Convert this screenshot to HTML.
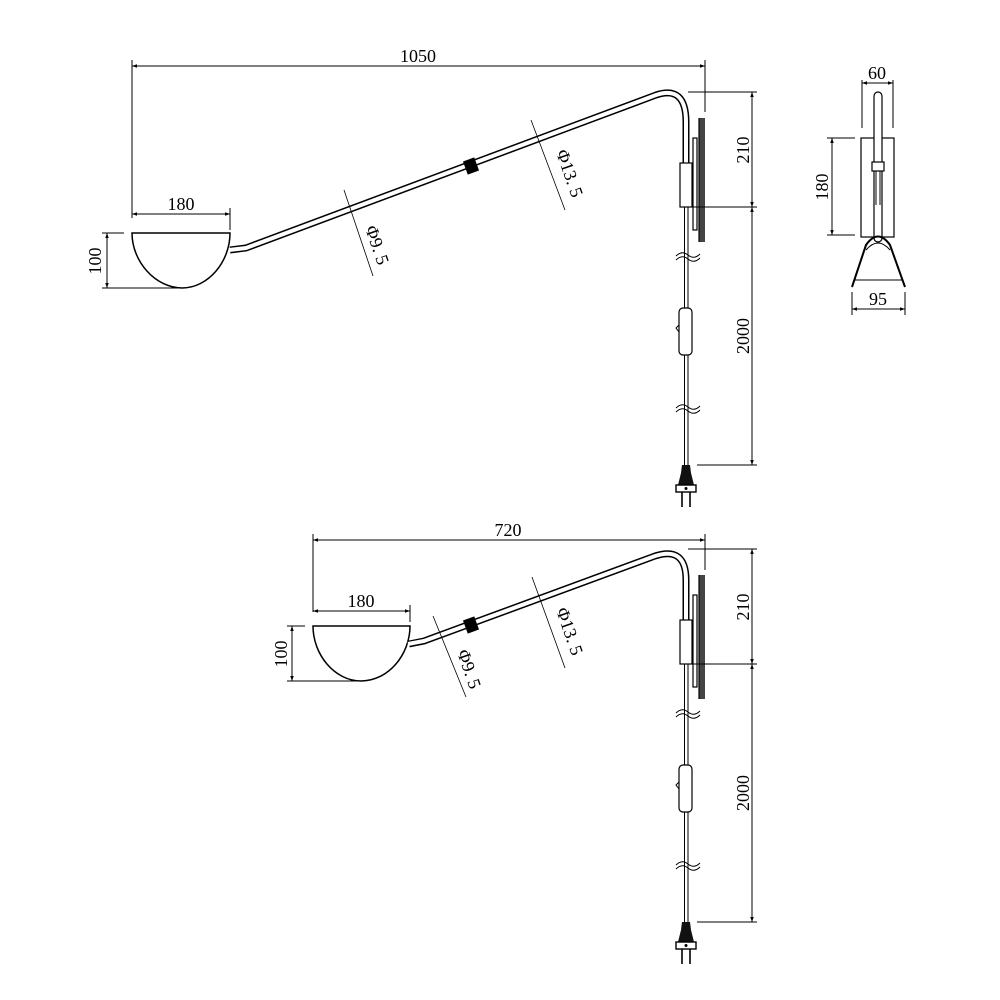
<!DOCTYPE html>
<html><head><meta charset="utf-8"><style>
html,body{margin:0;padding:0;background:#fff}
svg{display:block}
text{font-family:"Liberation Serif",serif;font-size:18px;fill:#000}
</style></head><body>
<svg width="1000" height="1000" viewBox="0 0 1000 1000" xmlns="http://www.w3.org/2000/svg">
<defs>
<marker id="a" viewBox="0 0 10 10" refX="10" refY="5" markerWidth="9" markerHeight="5" orient="auto-start-reverse" markerUnits="userSpaceOnUse"><path d="M0,1.5 L10,5 L0,8.5z" fill="#000"/></marker>
<g id="vert">
  <rect x="693" y="138" width="4" height="92" fill="#fff" stroke="#000" stroke-width="1.2"/>
  <rect x="699" y="118" width="6" height="124" fill="#444"/>
  <line x1="699" y1="118" x2="699" y2="242" stroke="#000" stroke-width="1.2"/>
  <rect x="680" y="163" width="12" height="44" fill="#fff" stroke="#000" stroke-width="1.2"/>
  <line x1="684.5" y1="207" x2="684.5" y2="470" stroke="#000" stroke-width="1"/>
  <line x1="688" y1="207" x2="688" y2="470" stroke="#000" stroke-width="1"/>
  <path d="M676,256 q6,-6 12,-1 t12,-1 M676,260 q6,-6 12,-1 t12,-1" stroke="#000" fill="none" stroke-width="1"/>
  <path d="M676,408 q6,-6 12,-1 t12,-1 M676,412 q6,-6 12,-1 t12,-1" stroke="#000" fill="none" stroke-width="1"/>
  <rect x="679" y="308" width="13" height="47" rx="4" fill="#fff" stroke="#000" stroke-width="1.2"/>
  <path d="M679,325 l-3,3 l3,4" fill="none" stroke="#000"/>
  <path d="M682,465 h8 l1,8 l3,12 h-16 l3,-12z" fill="#111"/>
  <rect x="676" y="485" width="20" height="7" fill="#fff" stroke="#000" stroke-width="1.4"/>
  <circle cx="686" cy="488.5" r="1.5" fill="#000"/>
  <line x1="682" y1="492" x2="682" y2="507" stroke="#000" stroke-width="1.6"/>
  <line x1="690" y1="492" x2="690" y2="507" stroke="#000" stroke-width="1.6"/>
  <line x1="688" y1="92" x2="757" y2="92" stroke="#000" stroke-width="1"/>
  <line x1="693" y1="207" x2="757" y2="207" stroke="#000" stroke-width="1"/>
  <line x1="697" y1="465" x2="757" y2="465" stroke="#000" stroke-width="1"/>
  <line x1="752" y1="92" x2="752" y2="207" stroke="#000" stroke-width="1" marker-start="url(#a)" marker-end="url(#a)"/>
  <line x1="752" y1="207" x2="752" y2="465" stroke="#000" stroke-width="1" marker-start="url(#a)" marker-end="url(#a)"/>
  <text transform="translate(749,150) rotate(-90)" text-anchor="middle">210</text>
  <text transform="translate(749,336) rotate(-90)" text-anchor="middle">2000</text>
</g>
</defs>

<line x1="132" y1="66" x2="705" y2="66" stroke="#000" stroke-width="1" marker-start="url(#a)" marker-end="url(#a)"/>
<line x1="132" y1="60" x2="132" y2="218" stroke="#000" stroke-width="1"/>
<line x1="705" y1="60" x2="705" y2="112" stroke="#000" stroke-width="1"/>
<text x="418" y="62" text-anchor="middle">1050</text>
<line x1="132" y1="214" x2="230" y2="214" stroke="#000" stroke-width="1" marker-start="url(#a)" marker-end="url(#a)"/>
<line x1="230" y1="208" x2="230" y2="230" stroke="#000" stroke-width="1"/>
<text x="181" y="210" text-anchor="middle">180</text>
<line x1="102" y1="233" x2="124" y2="233" stroke="#000" stroke-width="1"/>
<line x1="102" y1="288" x2="180" y2="288" stroke="#000" stroke-width="1"/>
<line x1="107" y1="233" x2="107" y2="288" stroke="#000" stroke-width="1" marker-start="url(#a)" marker-end="url(#a)"/>
<text transform="translate(101,261) rotate(-90)" text-anchor="middle">100</text>
<path d="M132,233 H230 C230,262 208,288 182,288 C156,288 132,262 132,233Z" fill="#fff" stroke="#000" stroke-width="1.5"/>
<path d="M230,250 L246,248 L656,95 Q686,85 686,122 L686,165" fill="none" stroke="#000" stroke-width="7"/>
<path d="M229,250 L246,248 L656,95 Q686,85 686,122 L686,166" fill="none" stroke="#fff" stroke-width="4"/>
<rect x="465" y="159" width="12" height="14" fill="#000" transform="rotate(-20 471 166)"/>
<line x1="344" y1="190" x2="373" y2="276" stroke="#000" stroke-width="0.8"/>
<text transform="translate(365,228) rotate(71)">Φ9. 5</text>
<line x1="531" y1="120" x2="565" y2="210" stroke="#000" stroke-width="0.8"/>
<text transform="translate(556,152) rotate(71)">Φ13. 5</text>
<use href="#vert"/>

<line x1="862" y1="83" x2="893" y2="83" stroke="#000" stroke-width="1" marker-start="url(#a)" marker-end="url(#a)"/>
<line x1="862" y1="80" x2="862" y2="128" stroke="#000" stroke-width="1"/>
<line x1="893" y1="80" x2="893" y2="128" stroke="#000" stroke-width="1"/>
<text x="877" y="79" text-anchor="middle">60</text>
<rect x="861" y="138" width="33" height="99" fill="#fff" stroke="#000" stroke-width="1.2"/>
<rect x="874" y="92" width="8" height="150" rx="4" fill="#fff" stroke="#000" stroke-width="1.2"/>
<rect x="872" y="162" width="12" height="9" fill="#fff" stroke="#000" stroke-width="1.2"/>
<line x1="876" y1="171" x2="876" y2="205" stroke="#000"/>
<line x1="880" y1="171" x2="880" y2="205" stroke="#000"/>
<path d="M852,287 L866,245 Q878,228 890,245 L905,287" fill="none" stroke="#000" stroke-width="2"/>
<path d="M866,250 Q878,236 890,250" fill="none" stroke="#000" stroke-width="1"/>
<line x1="855" y1="280" x2="902" y2="280" stroke="#000" stroke-width="1"/>
<line x1="827" y1="138" x2="855" y2="138" stroke="#000" stroke-width="1"/>
<line x1="827" y1="235" x2="855" y2="235" stroke="#000" stroke-width="1"/>
<line x1="832" y1="138" x2="832" y2="235" stroke="#000" stroke-width="1" marker-start="url(#a)" marker-end="url(#a)"/>
<text transform="translate(828,187) rotate(-90)" text-anchor="middle">180</text>
<line x1="852" y1="292" x2="852" y2="315" stroke="#000" stroke-width="1"/>
<line x1="905" y1="292" x2="905" y2="315" stroke="#000" stroke-width="1"/>
<line x1="852" y1="309" x2="905" y2="309" stroke="#000" stroke-width="1" marker-start="url(#a)" marker-end="url(#a)"/>
<text x="878" y="305" text-anchor="middle">95</text>

<line x1="313" y1="540" x2="705" y2="540" stroke="#000" stroke-width="1" marker-start="url(#a)" marker-end="url(#a)"/>
<line x1="313" y1="534" x2="313" y2="612" stroke="#000" stroke-width="1"/>
<line x1="705" y1="534" x2="705" y2="570" stroke="#000" stroke-width="1"/>
<text x="508" y="536" text-anchor="middle">720</text>
<line x1="313" y1="611" x2="410" y2="611" stroke="#000" stroke-width="1" marker-start="url(#a)" marker-end="url(#a)"/>
<line x1="410" y1="605" x2="410" y2="622" stroke="#000" stroke-width="1"/>
<text x="361" y="607" text-anchor="middle">180</text>
<line x1="287" y1="626" x2="305" y2="626" stroke="#000" stroke-width="1"/>
<line x1="287" y1="681" x2="360" y2="681" stroke="#000" stroke-width="1"/>
<line x1="292" y1="626" x2="292" y2="681" stroke="#000" stroke-width="1" marker-start="url(#a)" marker-end="url(#a)"/>
<text transform="translate(287,654) rotate(-90)" text-anchor="middle">100</text>
<path d="M313,626 H410 C410,655 388,681 361,681 C335,681 313,655 313,626Z" fill="#fff" stroke="#000" stroke-width="1.5"/>
<path d="M409,644 L424,641 L655,556 Q686,546 686,580 L686,622" fill="none" stroke="#000" stroke-width="7"/>
<path d="M408,644 L424,641 L655,556 Q686,546 686,580 L686,623" fill="none" stroke="#fff" stroke-width="4"/>
<rect x="465" y="618" width="12" height="14" fill="#000" transform="rotate(-20 471 625)"/>
<line x1="433" y1="616" x2="466" y2="697" stroke="#000" stroke-width="0.8"/>
<text transform="translate(457,652) rotate(71)">Φ9. 5</text>
<line x1="532" y1="577" x2="565" y2="668" stroke="#000" stroke-width="0.8"/>
<text transform="translate(556,610) rotate(71)">Φ13. 5</text>
<use href="#vert" transform="translate(0,457)"/>
</svg>
</body></html>
